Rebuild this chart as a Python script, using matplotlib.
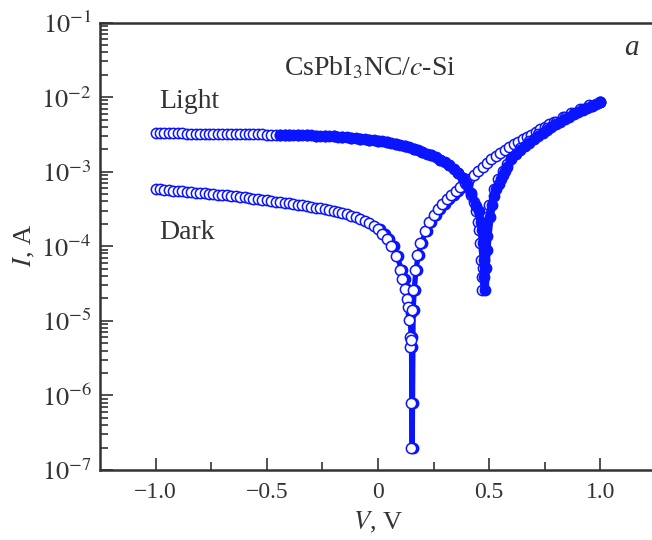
import numpy as np
import matplotlib.pyplot as plt
from matplotlib.ticker import FixedLocator, LogLocator, NullFormatter

plt.rcParams["font.family"] = ["Liberation Serif", "DejaVu Serif"]
plt.rcParams["mathtext.fontset"] = "stix"

# I-V data, CsPbI3 NC / c-Si heterostructure
# light, first sweep (open symbols)
light_open_v = [-1.00, -0.98, -0.96, -0.94, -0.92, -0.90, -0.88, -0.86, -0.84, -0.82,
                -0.80, -0.78, -0.76, -0.74, -0.72, -0.70, -0.68, -0.66, -0.64, -0.62,
                -0.60, -0.58, -0.56, -0.54, -0.52, -0.50, -0.48, -0.46, -0.44, -0.42,
                -0.40, -0.36, -0.32, -0.28, -0.24, -0.20, -0.16, -0.12, -0.08, -0.04,
                0.00, 0.04, 0.08, 0.12, 0.16, 0.20, 0.24, 0.28, 0.32, 0.36,
                0.38, 0.40, 0.42, 0.43, 0.44, 0.45, 0.455, 0.46, 0.463, 0.466,
                0.468, 0.472, 0.476, 0.48, 0.49, 0.50, 0.52, 0.54, 0.56, 0.58,
                0.60, 0.64, 0.68, 0.72, 0.76, 0.80, 0.84, 0.88, 0.92, 0.96, 1.00]
light_open_i = [3.27e-3, 3.27e-3, 3.26e-3, 3.26e-3, 3.25e-3, 3.25e-3, 3.25e-3, 3.24e-3, 3.24e-3, 3.23e-3,
                3.23e-3, 3.22e-3, 3.22e-3, 3.21e-3, 3.21e-3, 3.20e-3, 3.20e-3, 3.19e-3, 3.19e-3, 3.18e-3,
                3.18e-3, 3.17e-3, 3.17e-3, 3.16e-3, 3.16e-3, 3.15e-3, 3.15e-3, 3.14e-3, 3.14e-3, 3.14e-3,
                3.13e-3, 3.10e-3, 3.07e-3, 3.05e-3, 3.01e-3, 2.97e-3, 2.92e-3, 2.83e-3, 2.76e-3, 2.69e-3,
                2.60e-3, 2.48e-3, 2.35e-3, 2.19e-3, 2.03e-3, 1.85e-3, 1.65e-3, 1.44e-3, 1.21e-3, 9.6e-4,
                8.2e-4, 6.6e-4, 4.9e-4, 3.9e-4, 2.97e-4, 2.12e-4, 1.65e-4, 1.11e-4, 6.5e-5, 3.9e-5,
                2.6e-5, 5.1e-5, 8.9e-5, 1.37e-4, 2.47e-4, 3.58e-4, 5.86e-4, 7.98e-4, 1.02e-3, 1.27e-3,
                1.53e-3, 2.05e-3, 2.58e-3, 3.20e-3, 3.85e-3, 4.57e-3, 5.33e-3, 6.12e-3, 6.92e-3, 7.71e-3, 8.59e-3]

# light, second sweep (filled symbols)
light_fill_v = [-0.44, -0.42, -0.40, -0.38, -0.36, -0.34, -0.32, -0.30, -0.28, -0.26,
                -0.24, -0.22, -0.20, -0.18, -0.16, -0.14, -0.12, -0.10, -0.08, -0.06,
                -0.04, -0.02, 0.00, 0.02, 0.04, 0.06, 0.08, 0.10, 0.12, 0.14,
                0.16, 0.18, 0.20, 0.22, 0.24, 0.26, 0.28, 0.30, 0.32, 0.34,
                0.36, 0.38, 0.40, 0.42, 0.44, 0.452, 0.462, 0.467, 0.472, 0.475,
                0.478, 0.480, 0.484, 0.488, 0.492, 0.502, 0.512, 0.522, 0.532, 0.542,
                0.552, 0.562, 0.572, 0.582, 0.60, 0.62, 0.64, 0.66, 0.68, 0.70,
                0.72, 0.74, 0.76, 0.78, 0.80, 0.82, 0.84, 0.86, 0.88, 0.90,
                0.92, 0.94, 0.96, 0.98, 1.00]
light_fill_i = [3.14e-3, 3.14e-3, 3.13e-3, 3.11e-3, 3.10e-3, 3.09e-3, 3.07e-3, 3.06e-3, 3.05e-3, 3.03e-3,
                3.01e-3, 2.99e-3, 2.97e-3, 2.95e-3, 2.92e-3, 2.88e-3, 2.84e-3, 2.80e-3, 2.76e-3, 2.73e-3,
                2.69e-3, 2.65e-3, 2.60e-3, 2.54e-3, 2.48e-3, 2.42e-3, 2.35e-3, 2.27e-3, 2.19e-3, 2.11e-3,
                2.03e-3, 1.94e-3, 1.85e-3, 1.75e-3, 1.65e-3, 1.55e-3, 1.44e-3, 1.33e-3, 1.21e-3, 1.09e-3,
                9.6e-4, 8.3e-4, 6.8e-4, 5.1e-4, 3.5e-4, 2.97e-4, 2.12e-4, 1.65e-4, 1.11e-4, 6.5e-5,
                3.9e-5, 2.6e-5, 5.1e-5, 8.9e-5, 1.37e-4, 2.47e-4, 3.58e-4, 4.7e-4, 5.86e-4, 6.9e-4,
                7.98e-4, 9.1e-4, 1.02e-3, 1.14e-3, 1.50e-3, 1.74e-3, 1.98e-3, 2.23e-3, 2.46e-3, 2.74e-3,
                3.03e-3, 3.33e-3, 3.65e-3, 3.98e-3, 4.33e-3, 4.70e-3, 5.08e-3, 5.48e-3, 5.89e-3, 6.31e-3,
                6.74e-3, 7.18e-3, 7.63e-3, 8.09e-3, 8.56e-3]

# dark, first sweep (open symbols)
dark_open_v = [-1.00, -0.98, -0.96, -0.94, -0.92, -0.90, -0.88, -0.86, -0.84, -0.82,
               -0.80, -0.78, -0.76, -0.74, -0.72, -0.70, -0.68, -0.66, -0.64, -0.62,
               -0.60, -0.58, -0.56, -0.54, -0.52, -0.50, -0.48, -0.46, -0.44, -0.42,
               -0.40, -0.38, -0.36, -0.34, -0.32, -0.30, -0.28, -0.26, -0.24, -0.22,
               -0.20, -0.18, -0.16, -0.14, -0.12, -0.10, -0.08, -0.06, -0.04, -0.02,
               0.00, 0.02, 0.04, 0.06, 0.08, 0.10, 0.11, 0.12, 0.13, 0.135,
               0.14, 0.143, 0.145, 0.147, 0.148, 0.150, 0.153, 0.157, 0.165, 0.175,
               0.19, 0.21, 0.23, 0.25, 0.27, 0.29, 0.31, 0.33, 0.35, 0.37,
               0.39, 0.41, 0.43, 0.45, 0.47, 0.49, 0.51, 0.53, 0.55, 0.57,
               0.59, 0.61, 0.63, 0.65, 0.67, 0.69, 0.71, 0.73, 0.75, 0.77,
               0.79, 0.83, 0.87, 0.91, 0.95, 1.00]
dark_open_i = [5.86e-4, 5.79e-4, 5.72e-4, 5.64e-4, 5.57e-4, 5.50e-4, 5.44e-4, 5.37e-4, 5.31e-4, 5.24e-4,
               5.18e-4, 5.12e-4, 5.06e-4, 4.99e-4, 4.93e-4, 4.87e-4, 4.80e-4, 4.73e-4, 4.66e-4, 4.58e-4,
               4.51e-4, 4.43e-4, 4.35e-4, 4.27e-4, 4.19e-4, 4.11e-4, 4.04e-4, 3.97e-4, 3.90e-4, 3.82e-4,
               3.75e-4, 3.67e-4, 3.60e-4, 3.52e-4, 3.45e-4, 3.37e-4, 3.29e-4, 3.21e-4, 3.13e-4, 3.05e-4,
               2.97e-4, 2.87e-4, 2.77e-4, 2.67e-4, 2.57e-4, 2.47e-4, 2.33e-4, 2.19e-4, 2.05e-4, 1.88e-4,
               1.71e-4, 1.48e-4, 1.25e-4, 1.01e-4, 7.4e-5, 4.8e-5, 3.65e-5, 2.68e-5, 1.97e-5, 1.54e-5,
               1.03e-5, 6.1e-6, 4.5e-6, 7.9e-7, 2.0e-7, 5.5e-6, 1.4e-5, 2.6e-5, 4.8e-5, 7.6e-5,
               1.11e-4, 1.60e-4, 2.12e-4, 2.63e-4, 3.16e-4, 3.69e-4, 4.24e-4, 4.87e-4, 5.50e-4, 6.24e-4,
               7.05e-4, 7.98e-4, 9.0e-4, 1.02e-3, 1.16e-3, 1.31e-3, 1.48e-3, 1.62e-3, 1.78e-3, 1.95e-3,
               2.14e-3, 2.32e-3, 2.50e-3, 2.70e-3, 2.92e-3, 3.15e-3, 3.41e-3, 3.68e-3, 3.97e-3, 4.29e-3,
               4.63e-3, 5.40e-3, 6.20e-3, 7.00e-3, 7.80e-3, 8.60e-3]

# dark, second sweep (filled symbols)
dark_fill_v = [0.01, 0.03, 0.05, 0.07, 0.09, 0.11, 0.12, 0.13, 0.14, 0.145,
               0.150, 0.153, 0.155, 0.157, 0.158, 0.162, 0.167, 0.175, 0.185, 0.20,
               0.22, 0.24, 0.26, 0.28, 0.30, 0.32, 0.34, 0.36, 0.38, 0.40]
dark_fill_i = [1.71e-4, 1.48e-4, 1.25e-4, 1.01e-4, 7.4e-5, 4.8e-5, 3.65e-5, 2.68e-5, 1.97e-5, 1.54e-5,
               1.27e-5, 6.1e-6, 4.5e-6, 7.9e-7, 2.0e-7, 1.4e-5, 2.6e-5, 4.8e-5, 7.6e-5, 1.11e-4,
               1.60e-4, 2.12e-4, 2.63e-4, 3.16e-4, 3.69e-4, 4.24e-4, 4.87e-4, 5.50e-4, 6.24e-4, 7.05e-4]

x_ticks = [-1.0, -0.5, 0.0, 0.5, 1.0]
x_labels = ["\u22121.0", "\u22120.5", "0", "0.5", "1.0"]
y_ticks = [1e-7, 1e-6, 1e-5, 1e-4, 1e-3, 1e-2, 1e-1]
y_labels = [r"$10^{-7}$", r"$10^{-6}$", r"$10^{-5}$", r"$10^{-4}$",
            r"$10^{-3}$", r"$10^{-2}$", r"$10^{-1}$"]

blue = "#0a14ff"
ink = "#333333"
ms = 7.4

fig = plt.figure(figsize=(6.52, 5.40), dpi=100)
ax = fig.add_axes([100 / 652, 70 / 540, 556 / 652, 447.5 / 540])

# dark: filled sweep sits under the open one
ax.plot(dark_fill_v, dark_fill_i, "-o", color=blue, lw=2.5, ms=ms,
        mfc=blue, mec=blue, mew=1.1, zorder=2)
ax.plot(dark_open_v, dark_open_i, "-o", color=blue, lw=2, ms=ms,
        mfc="white", mec=blue, mew=1.1, zorder=3)
# light: filled sweep on top
ax.plot(light_open_v, light_open_i, "-o", color=blue, lw=2, ms=ms,
        mfc="white", mec=blue, mew=1.1, zorder=4)
ax.plot(light_fill_v, light_fill_i, "-o", color=blue, lw=6, ms=ms,
        mfc=blue, mec=blue, mew=1.1, zorder=5)

ax.set_yscale("log")
ax.set_xlim(-1.25, 1.25)
ax.set_ylim(1e-7, 1e-1)

ax.xaxis.set_major_locator(FixedLocator(x_ticks))
ax.set_xticklabels(x_labels)
ax.xaxis.set_minor_locator(FixedLocator([-0.75, -0.25, 0.25, 0.75]))
ax.yaxis.set_major_locator(FixedLocator(y_ticks))
ax.set_yticklabels(y_labels)
ax.yaxis.set_minor_locator(LogLocator(base=10, subs=np.arange(2, 10), numticks=20))
ax.yaxis.set_minor_formatter(NullFormatter())

ax.tick_params(which="both", direction="in", color=ink, width=1.2,
               labelsize=17, labelcolor=ink, top=False, right=False)
ax.tick_params(axis="y", labelsize=19, pad=6)
ax.tick_params(axis="x", pad=9)
ax.tick_params(which="major", length=9)
ax.tick_params(which="minor", length=5.5)
for side in ["left", "bottom", "top"]:
    ax.spines[side].set_linewidth(1.8)
    ax.spines[side].set_color(ink)
ax.spines["right"].set_visible(False)

ax.text(-0.036, 2.45e-2, r"CsPbI$_3$NC/$c$-Si", fontsize=20, ha="center", va="center", color=ink)
ax.text(-0.985, 8.7e-3, "Light", fontsize=20, ha="left", va="center", color=ink)
ax.text(-0.985, 1.55e-4, "Dark", fontsize=20, ha="left", va="center", color=ink)
ax.text(1.14, 4.5e-2, "a", fontsize=21, style="italic", ha="center", va="center", color=ink)

fig.text(24 / 652, 1 - 245 / 540, r"$I$, A", fontsize=19, rotation=90,
         ha="center", va="center", color=ink)
fig.text(378 / 652, 1 - 522 / 540, r"$V$, V", fontsize=19,
         ha="center", va="center", color=ink)

fig.savefig("out.png", dpi=100)
